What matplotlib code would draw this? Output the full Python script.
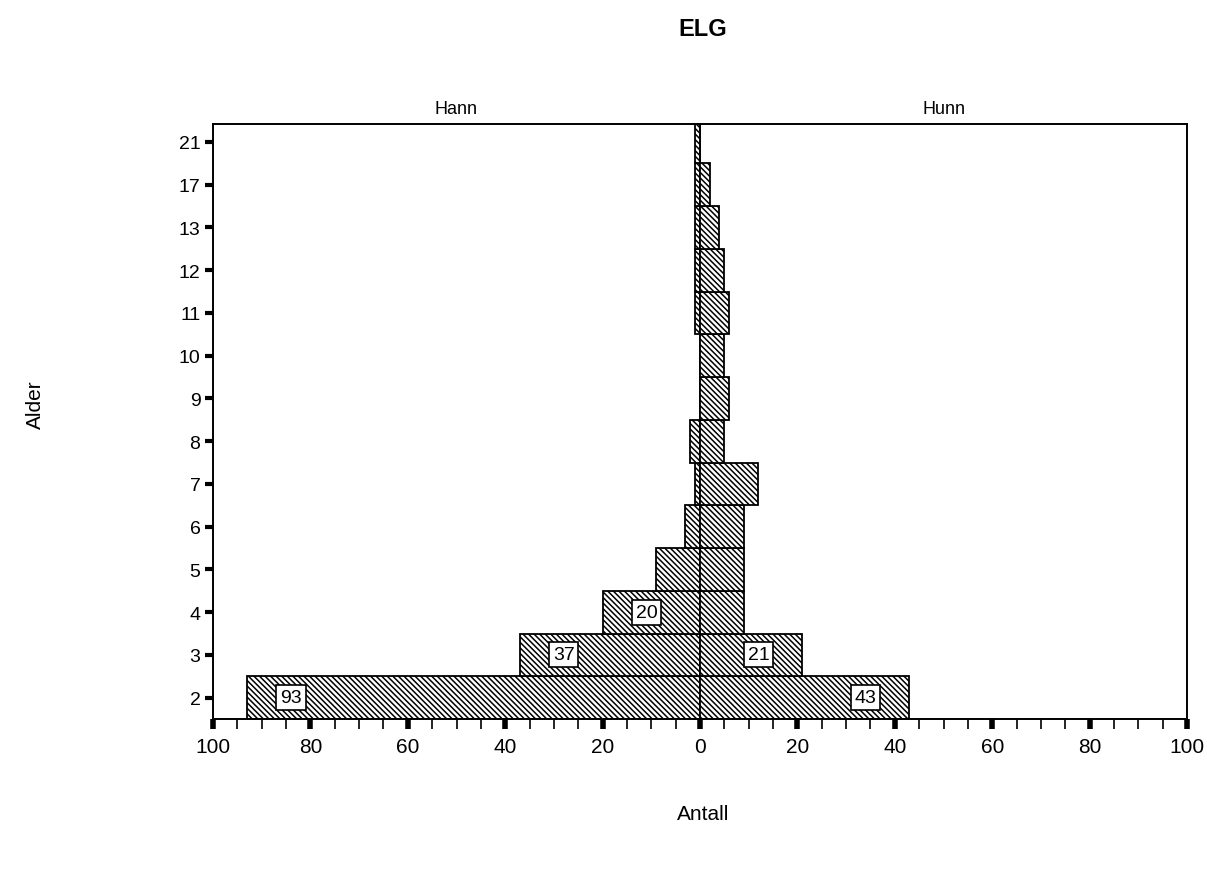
import matplotlib
matplotlib.use("Agg")
import matplotlib.pyplot as plt
import numpy as np
from matplotlib.ticker import MultipleLocator, FuncFormatter

plt.rcParams['font.family'] = ['Liberation Sans', 'DejaVu Sans']
plt.rcParams['hatch.linewidth'] = 1.1

ages = ["2", "3", "4", "5", "6", "7", "8", "9", "10", "11", "12", "13", "17", "21"]
hann = [93, 37, 20, 9, 3, 1, 2, 0, 0, 1, 1, 1, 1, 1]
hunn = [43, 21, 9, 9, 9, 12, 5, 6, 5, 6, 5, 4, 2, 0]
label_min = 20

fig = plt.figure(figsize=(12.07, 8.78), dpi=100)
ax = fig.add_axes([213/1207, 1-720/878, (1187-213)/1207, (720-125)/878])

y = np.arange(len(ages))
hatch = '\\' * 6
ax.barh(y, [-v for v in hann], height=1.0, left=0, color='white',
        edgecolor='black', hatch=hatch, linewidth=1.3)
ax.barh(y, hunn, height=1.0, left=0, color='white',
        edgecolor='black', hatch=hatch, linewidth=1.3)

box = dict(boxstyle='square,pad=0.2', facecolor='white', edgecolor='black', linewidth=1.2)
for i, v in enumerate(hann):
    if v >= label_min:
        ax.text(-(v - 9), y[i], str(v), ha='center', va='center', fontsize=14, bbox=box)
for i, v in enumerate(hunn):
    if v >= label_min:
        ax.text(v - 9, y[i], str(v), ha='center', va='center', fontsize=14, bbox=box)

ax.set_xlim(-100, 100)
ax.set_ylim(-0.5, 13.42)
ax.set_yticks(y)
ax.set_yticklabels(ages, fontsize=14)
ax.xaxis.set_major_locator(MultipleLocator(20))
ax.xaxis.set_minor_locator(MultipleLocator(5))
ax.xaxis.set_major_formatter(FuncFormatter(lambda v, p: f"{abs(int(round(v)))}"))
ax.tick_params(axis='x', which='major', length=7, width=4, labelsize=15, pad=6)
ax.tick_params(axis='x', which='minor', length=7, width=1.2)
ax.tick_params(axis='y', which='major', length=6, width=3, pad=3)
for s in ax.spines.values():
    s.set_linewidth(1.4)

ax.text(0.25, 1.012, "Hann", transform=ax.transAxes, ha='center', va='bottom', fontsize=13)
ax.text(0.75, 1.012, "Hunn", transform=ax.transAxes, ha='center', va='bottom', fontsize=13)

fig.text(703/1207, 1-30/878, "ELG", ha='center', va='center', fontsize=17, fontweight='bold')
fig.text(35/1207, 1-405/878, "Alder", ha='center', va='center', fontsize=15, rotation=90)
fig.text(703/1207, 1-815/878, "Antall", ha='center', va='center', fontsize=15)

fig.savefig("out.png", dpi=100)
